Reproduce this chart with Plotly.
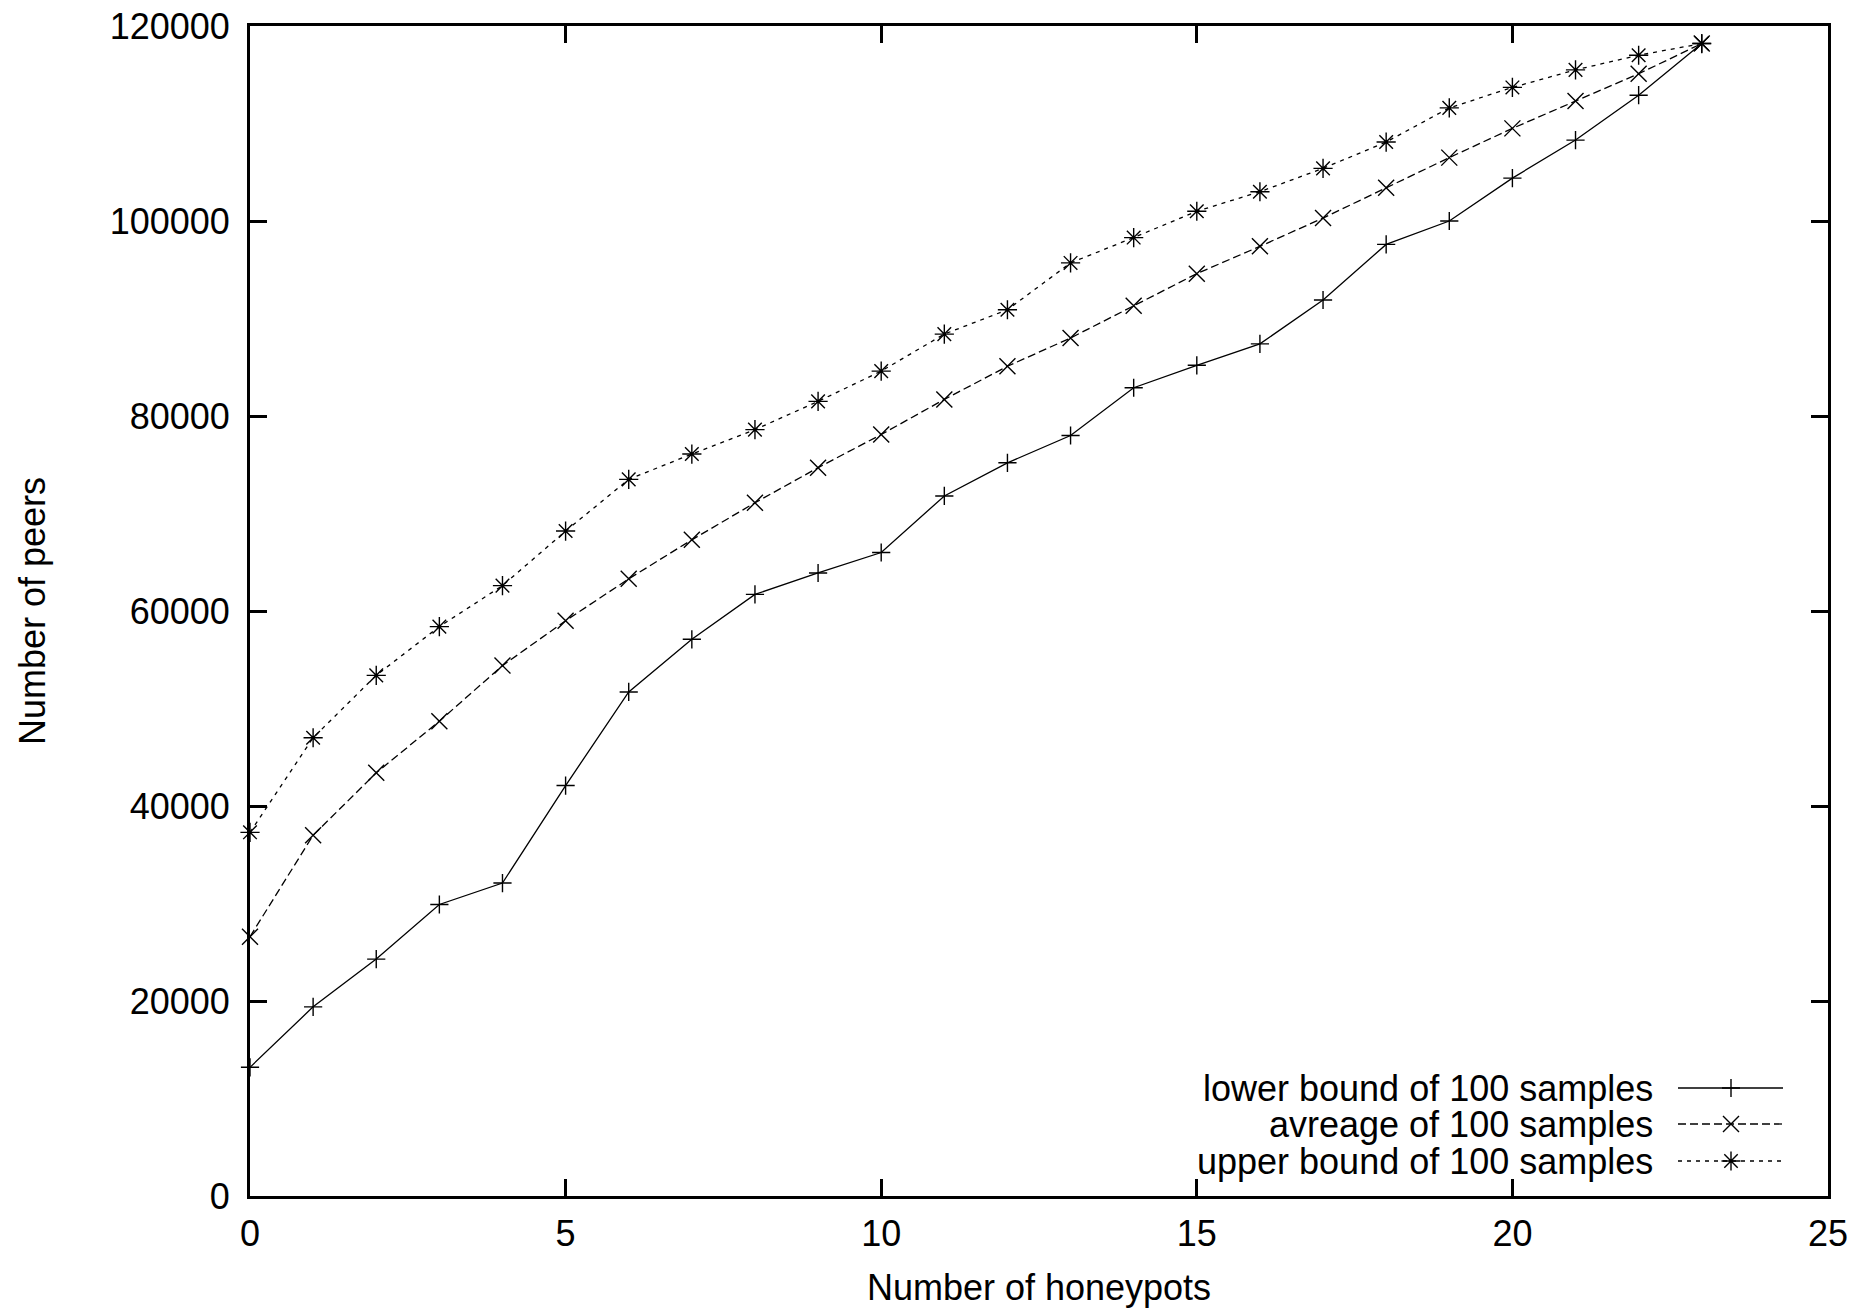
import plotly.graph_objects as go

honeypots = list(range(24))
lower_bound = [13200, 19400, 24300, 29900, 32100, 42100, 51700, 57100, 61700, 63900,
               66000, 71800, 75200, 78000, 82900, 85200, 87400, 91900, 97600, 100000,
               104400, 108300, 112900, 118200]
average = [26600, 37000, 43400, 48700, 54400, 59000, 63300, 67300, 71100, 74700,
           78100, 81700, 85100, 88000, 91300, 94600, 97400, 100300, 103400, 106500,
           109500, 112300, 115100, 118200]
upper_bound = [37300, 47000, 53400, 58400, 62600, 68200, 73500, 76100, 78600, 81500,
               84600, 88400, 90900, 95700, 98300, 101000, 103000, 105400, 108100, 111600,
               113700, 115500, 117000, 118200]
series_names = ["lower bound of 100 samples", "avreage of 100 samples", "upper bound of 100 samples"]
x_ticks = [0, 5, 10, 15, 20, 25]
y_ticks = [0, 20000, 40000, 60000, 80000, 100000, 120000]

FONT = "Liberation Sans, Arial, Helvetica, sans-serif"
W, H = 1861, 1310
ML, MR, MT, MB = 250, 33, 26, 114
PW, PH = W - ML - MR, H - MT - MB

fig = go.Figure()
styles = [
    dict(dash="solid", symbol="cross-thin-open", size=13),
    dict(dash="8px,4px", symbol="x-thin-open", size=16),
    dict(dash="4px,5px", symbol="asterisk-open", size=16),
]
for name, ys, st in zip(series_names, [lower_bound, average, upper_bound], styles):
    fig.add_trace(go.Scatter(
        x=honeypots, y=ys, name=name, mode="lines+markers", showlegend=False,
        cliponaxis=False,
        line=dict(color="black", width=1.3, dash=st["dash"]),
        marker=dict(symbol=st["symbol"], size=st["size"], color="black",
                    line=dict(color="black", width=1.4)),
    ))

# gnuplot-style key: text right-aligned, sample line + glyph on the right
def px_to_paper_x(px):
    return (px - ML) / PW

def px_to_paper_y(py):
    return (H - MB - py) / PH

key_text_right = 1655
key_line_x0, key_line_x1, key_mark_x = 1678, 1783, 1731
key_rows = [1088, 1124, 1161]
shapes = []
annotations = []
for i, (name, st) in enumerate(zip(series_names, styles)):
    py = key_rows[i]
    annotations.append(dict(
        x=px_to_paper_x(key_text_right), y=px_to_paper_y(py), xref="paper", yref="paper",
        text=name, showarrow=False, xanchor="right", yanchor="middle",
        font=dict(family=FONT, size=36, color="black"),
    ))
    shapes.append(dict(
        type="line", xref="paper", yref="paper",
        x0=px_to_paper_x(key_line_x0), x1=px_to_paper_x(key_line_x1),
        y0=px_to_paper_y(py), y1=px_to_paper_y(py),
        line=dict(color="black", width=1.3, dash=st["dash"]),
    ))
    cx, cy = key_mark_x, py
    if i == 0:
        a = 9
        segs = [((cx - a, cy), (cx + a, cy)), ((cx, cy - a), (cx, cy + a))]
    elif i == 1:
        a = 8
        segs = [((cx - a, cy - a), (cx + a, cy + a)), ((cx - a, cy + a), (cx + a, cy - a))]
    else:
        a, b = 9.5, 6.7
        segs = [((cx - a, cy), (cx + a, cy)), ((cx, cy - a), (cx, cy + a)),
                ((cx - b, cy - b), (cx + b, cy + b)), ((cx - b, cy + b), (cx + b, cy - b))]
    path = " ".join(
        "M{:.5f},{:.5f} L{:.5f},{:.5f}".format(px_to_paper_x(p[0]), px_to_paper_y(p[1]),
                                               px_to_paper_x(q[0]), px_to_paper_y(q[1]))
        for p, q in segs)
    shapes.append(dict(type="path", xref="paper", yref="paper", path=path,
                       line=dict(color="black", width=1.4)))

axis_common = dict(
    showline=True, linecolor="black", linewidth=3, mirror="ticks",
    ticks="inside", ticklen=17, tickwidth=3, tickcolor="black",
    showgrid=False, zeroline=False,
    tickfont=dict(family=FONT, size=36, color="black"),
    title_font=dict(family=FONT, size=36, color="black"),
)

fig.update_layout(
    width=W, height=H,
    margin=dict(l=ML, r=MR, t=MT, b=MB, autoexpand=False),
    paper_bgcolor="white", plot_bgcolor="white",
    font=dict(family=FONT, size=36, color="black"),
    xaxis=dict(range=[0, 25], tickvals=x_ticks, ticktext=[str(v) for v in x_ticks],
               title=dict(text="Number of honeypots", standoff=22), automargin=False,
               ticklabelstandoff=4, **axis_common),
    yaxis=dict(range=[0, 120000], tickvals=y_ticks, ticktext=[str(v) for v in y_ticks],
               title=dict(text="Number of peers", standoff=54), automargin=False,
               ticklabelstandoff=10, **axis_common),
    shapes=shapes, annotations=annotations,
    showlegend=False,
)

fig.write_html("out.html")
